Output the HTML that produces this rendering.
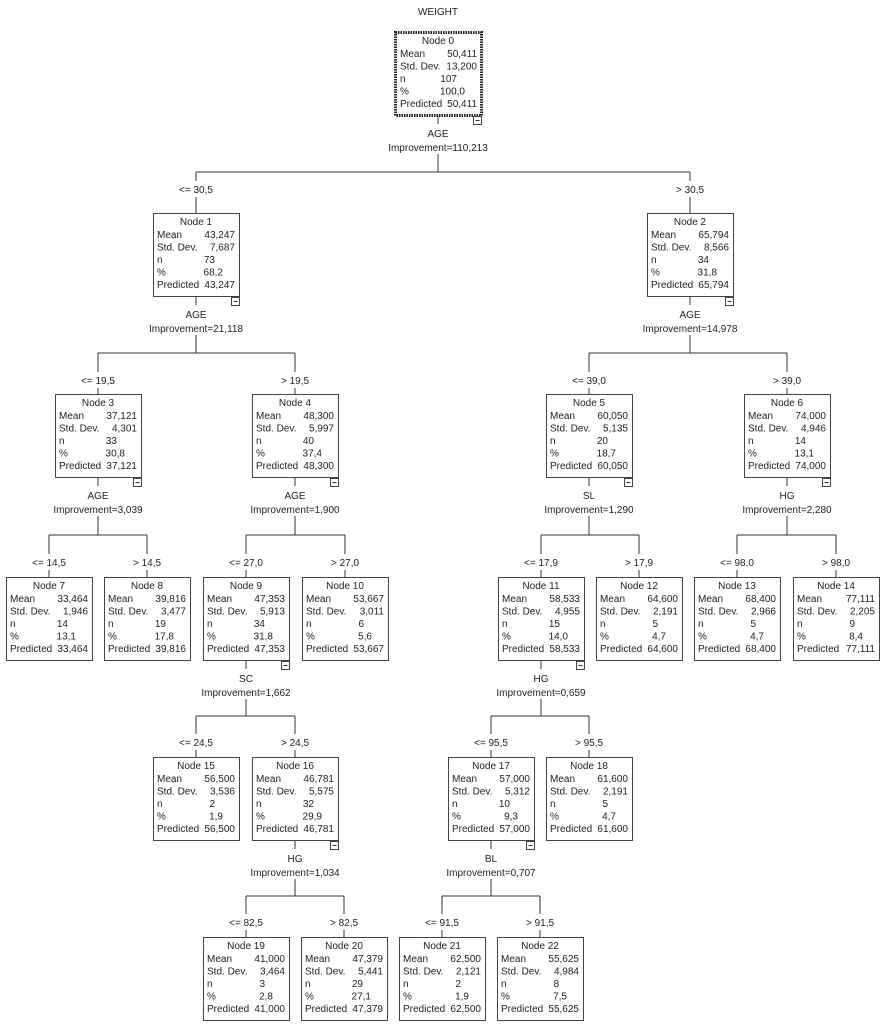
<!DOCTYPE html>
<html><head><meta charset="utf-8"><style>
html,body{margin:0;padding:0;background:#fff;}
svg{display:block;font-family:"Liberation Sans",Arial,sans-serif;font-size:10px;fill:#222;}
rect.b{fill:#fff;stroke:#444;stroke-width:1;}
line{stroke:#333;stroke-width:1;}
.m{fill:#fff;stroke:#444;stroke-width:1;}
</style></head><body>
<svg width="883" height="1024" viewBox="0 0 883 1024" xmlns="http://www.w3.org/2000/svg">
<defs>
<g id="minus"><rect class="m" x="78.5" y="84.5" width="8" height="8"/><line x1="80.5" y1="88.5" x2="84.5" y2="88.5"/></g>
</defs>
<text x="438" y="15" text-anchor="middle">WEIGHT</text>

<!-- connectors -->
<g>
<!-- node0 -->
<line x1="438" y1="115" x2="438" y2="124"/><line x1="438" y1="154" x2="438" y2="172"/>
<line x1="196" y1="172" x2="690" y2="172"/>
<line x1="196" y1="172" x2="196" y2="181"/><line x1="196" y1="197" x2="196" y2="213"/>
<line x1="690" y1="172" x2="690" y2="181"/><line x1="690" y1="197" x2="690" y2="213"/>
<!-- node1 -->
<line x1="196" y1="296" x2="196" y2="305"/><line x1="196" y1="335" x2="196" y2="353"/>
<line x1="98" y1="353" x2="295" y2="353"/>
<line x1="98" y1="353" x2="98" y2="372"/><line x1="98" y1="388" x2="98" y2="394"/>
<line x1="295" y1="353" x2="295" y2="372"/><line x1="295" y1="388" x2="295" y2="394"/>
<!-- node2 -->
<line x1="690" y1="296" x2="690" y2="305"/><line x1="690" y1="335" x2="690" y2="353"/>
<line x1="589" y1="353" x2="787" y2="353"/>
<line x1="589" y1="353" x2="589" y2="372"/><line x1="589" y1="388" x2="589" y2="394"/>
<line x1="787" y1="353" x2="787" y2="372"/><line x1="787" y1="388" x2="787" y2="394"/>
<!-- node3 -->
<line x1="98" y1="477" x2="98" y2="486"/><line x1="98" y1="516" x2="98" y2="535"/>
<line x1="49" y1="535" x2="147" y2="535"/>
<line x1="49" y1="535" x2="49" y2="554"/><line x1="49" y1="570" x2="49" y2="577"/>
<line x1="147" y1="535" x2="147" y2="554"/><line x1="147" y1="570" x2="147" y2="577"/>
<!-- node4 -->
<line x1="295" y1="477" x2="295" y2="486"/><line x1="295" y1="516" x2="295" y2="535"/>
<line x1="246" y1="535" x2="345" y2="535"/>
<line x1="246" y1="535" x2="246" y2="554"/><line x1="246" y1="570" x2="246" y2="577"/>
<line x1="345" y1="535" x2="345" y2="554"/><line x1="345" y1="570" x2="345" y2="577"/>
<!-- node5 -->
<line x1="589" y1="477" x2="589" y2="486"/><line x1="589" y1="516" x2="589" y2="535"/>
<line x1="541" y1="535" x2="639" y2="535"/>
<line x1="541" y1="535" x2="541" y2="554"/><line x1="541" y1="570" x2="541" y2="577"/>
<line x1="639" y1="535" x2="639" y2="554"/><line x1="639" y1="570" x2="639" y2="577"/>
<!-- node6 -->
<line x1="787" y1="477" x2="787" y2="486"/><line x1="787" y1="516" x2="787" y2="535"/>
<line x1="737" y1="535" x2="836" y2="535"/>
<line x1="737" y1="535" x2="737" y2="554"/><line x1="737" y1="570" x2="737" y2="577"/>
<line x1="836" y1="535" x2="836" y2="554"/><line x1="836" y1="570" x2="836" y2="577"/>
<!-- node9 -->
<line x1="246" y1="660" x2="246" y2="669"/><line x1="246" y1="699" x2="246" y2="716"/>
<line x1="196" y1="716" x2="295" y2="716"/>
<line x1="196" y1="716" x2="196" y2="734"/><line x1="196" y1="750" x2="196" y2="757"/>
<line x1="295" y1="716" x2="295" y2="734"/><line x1="295" y1="750" x2="295" y2="757"/>
<!-- node11 -->
<line x1="541" y1="660" x2="541" y2="669"/><line x1="541" y1="699" x2="541" y2="716"/>
<line x1="491" y1="716" x2="589" y2="716"/>
<line x1="491" y1="716" x2="491" y2="734"/><line x1="491" y1="750" x2="491" y2="757"/>
<line x1="589" y1="716" x2="589" y2="734"/><line x1="589" y1="750" x2="589" y2="757"/>
<!-- node16 -->
<line x1="295" y1="840" x2="295" y2="849"/><line x1="295" y1="879" x2="295" y2="896"/>
<line x1="246" y1="896" x2="344" y2="896"/>
<line x1="246" y1="896" x2="246" y2="914"/><line x1="246" y1="930" x2="246" y2="937"/>
<line x1="344" y1="896" x2="344" y2="914"/><line x1="344" y1="930" x2="344" y2="937"/>
<!-- node17 -->
<line x1="491" y1="840" x2="491" y2="849"/><line x1="491" y1="879" x2="491" y2="896"/>
<line x1="442" y1="896" x2="540" y2="896"/>
<line x1="442" y1="896" x2="442" y2="914"/><line x1="442" y1="930" x2="442" y2="937"/>
<line x1="540" y1="896" x2="540" y2="914"/><line x1="540" y1="930" x2="540" y2="937"/>
</g>

<!-- split labels -->
<g text-anchor="middle">
<text x="438" y="137">AGE</text><text x="438" y="151">Improvement=110,213</text>
<text x="196" y="193">&lt;= 30,5</text><text x="690" y="193">&gt; 30,5</text>
<text x="196" y="318">AGE</text><text x="196" y="332">Improvement=21,118</text>
<text x="98" y="384">&lt;= 19,5</text><text x="295" y="384">&gt; 19,5</text>
<text x="690" y="318">AGE</text><text x="690" y="332">Improvement=14,978</text>
<text x="589" y="384">&lt;= 39,0</text><text x="787" y="384">&gt; 39,0</text>
<text x="98" y="499">AGE</text><text x="98" y="513">Improvement=3,039</text>
<text x="49" y="566">&lt;= 14,5</text><text x="147" y="566">&gt; 14,5</text>
<text x="295" y="499">AGE</text><text x="295" y="513">Improvement=1,900</text>
<text x="246" y="566">&lt;= 27,0</text><text x="345" y="566">&gt; 27,0</text>
<text x="589" y="499">SL</text><text x="589" y="513">Improvement=1,290</text>
<text x="541" y="566">&lt;= 17,9</text><text x="639" y="566">&gt; 17,9</text>
<text x="787" y="499">HG</text><text x="787" y="513">Improvement=2,280</text>
<text x="737" y="566">&lt;= 98,0</text><text x="836" y="566">&gt; 98,0</text>
<text x="246" y="682">SC</text><text x="246" y="696">Improvement=1,662</text>
<text x="196" y="746">&lt;= 24,5</text><text x="295" y="746">&gt; 24,5</text>
<text x="541" y="682">HG</text><text x="541" y="696">Improvement=0,659</text>
<text x="491" y="746">&lt;= 95,5</text><text x="589" y="746">&gt; 95,5</text>
<text x="295" y="862">HG</text><text x="295" y="876">Improvement=1,034</text>
<text x="246" y="926">&lt;= 82,5</text><text x="344" y="926">&gt; 82,5</text>
<text x="491" y="862">BL</text><text x="491" y="876">Improvement=0,707</text>
<text x="442" y="926">&lt;= 91,5</text><text x="540" y="926">&gt; 91,5</text>
</g>

<!-- Node 0 -->
<g transform="translate(395,32)">
<rect x="0.5" y="0.5" width="86" height="83" fill="#fff" stroke="#222" stroke-width="3" stroke-dasharray="1.5,1"/>
<text x="43" y="12" text-anchor="middle">Node 0</text>
<text x="5" y="25">Mean</text><text x="82" y="25" text-anchor="end">50,411</text>
<text x="5" y="37.5">Std. Dev.</text><text x="82" y="37.5" text-anchor="end">13,200</text>
<text x="5" y="50">n</text><text x="62" y="50" text-anchor="end">107</text>
<text x="5" y="62.5">%</text><text x="70" y="62.5" text-anchor="end">100,0</text>
<text x="5" y="75">Predicted</text><text x="82" y="75" text-anchor="end">50,411</text>
<use href="#minus"/>
</g>

<g transform="translate(153,213)"><rect class="b" x="0.5" y="0.5" width="86" height="83"/>
<text x="43" y="12" text-anchor="middle">Node 1</text>
<text x="4" y="25">Mean</text><text x="82" y="25" text-anchor="end">43,247</text>
<text x="4" y="37.5">Std. Dev.</text><text x="82" y="37.5" text-anchor="end">7,687</text>
<text x="4" y="50">n</text><text x="62" y="50" text-anchor="end">73</text>
<text x="4" y="62.5">%</text><text x="70" y="62.5" text-anchor="end">68,2</text>
<text x="4" y="75">Predicted</text><text x="82" y="75" text-anchor="end">43,247</text>
<use href="#minus"/></g>

<g transform="translate(647,213)"><rect class="b" x="0.5" y="0.5" width="86" height="83"/>
<text x="43" y="12" text-anchor="middle">Node 2</text>
<text x="4" y="25">Mean</text><text x="82" y="25" text-anchor="end">65,794</text>
<text x="4" y="37.5">Std. Dev.</text><text x="82" y="37.5" text-anchor="end">8,566</text>
<text x="4" y="50">n</text><text x="62" y="50" text-anchor="end">34</text>
<text x="4" y="62.5">%</text><text x="70" y="62.5" text-anchor="end">31,8</text>
<text x="4" y="75">Predicted</text><text x="82" y="75" text-anchor="end">65,794</text>
<use href="#minus"/></g>

<g transform="translate(55,394)"><rect class="b" x="0.5" y="0.5" width="86" height="83"/>
<text x="43" y="12" text-anchor="middle">Node 3</text>
<text x="4" y="25">Mean</text><text x="82" y="25" text-anchor="end">37,121</text>
<text x="4" y="37.5">Std. Dev.</text><text x="82" y="37.5" text-anchor="end">4,301</text>
<text x="4" y="50">n</text><text x="62" y="50" text-anchor="end">33</text>
<text x="4" y="62.5">%</text><text x="70" y="62.5" text-anchor="end">30,8</text>
<text x="4" y="75">Predicted</text><text x="82" y="75" text-anchor="end">37,121</text>
<use href="#minus"/></g>

<g transform="translate(252,394)"><rect class="b" x="0.5" y="0.5" width="86" height="83"/>
<text x="43" y="12" text-anchor="middle">Node 4</text>
<text x="4" y="25">Mean</text><text x="82" y="25" text-anchor="end">48,300</text>
<text x="4" y="37.5">Std. Dev.</text><text x="82" y="37.5" text-anchor="end">5,997</text>
<text x="4" y="50">n</text><text x="62" y="50" text-anchor="end">40</text>
<text x="4" y="62.5">%</text><text x="70" y="62.5" text-anchor="end">37,4</text>
<text x="4" y="75">Predicted</text><text x="82" y="75" text-anchor="end">48,300</text>
<use href="#minus"/></g>

<g transform="translate(546,394)"><rect class="b" x="0.5" y="0.5" width="86" height="83"/>
<text x="43" y="12" text-anchor="middle">Node 5</text>
<text x="4" y="25">Mean</text><text x="82" y="25" text-anchor="end">60,050</text>
<text x="4" y="37.5">Std. Dev.</text><text x="82" y="37.5" text-anchor="end">5,135</text>
<text x="4" y="50">n</text><text x="62" y="50" text-anchor="end">20</text>
<text x="4" y="62.5">%</text><text x="70" y="62.5" text-anchor="end">18,7</text>
<text x="4" y="75">Predicted</text><text x="82" y="75" text-anchor="end">60,050</text>
<use href="#minus"/></g>

<g transform="translate(744,394)"><rect class="b" x="0.5" y="0.5" width="86" height="83"/>
<text x="43" y="12" text-anchor="middle">Node 6</text>
<text x="4" y="25">Mean</text><text x="82" y="25" text-anchor="end">74,000</text>
<text x="4" y="37.5">Std. Dev.</text><text x="82" y="37.5" text-anchor="end">4,946</text>
<text x="4" y="50">n</text><text x="62" y="50" text-anchor="end">14</text>
<text x="4" y="62.5">%</text><text x="70" y="62.5" text-anchor="end">13,1</text>
<text x="4" y="75">Predicted</text><text x="82" y="75" text-anchor="end">74,000</text>
<use href="#minus"/></g>

<g transform="translate(6,577)"><rect class="b" x="0.5" y="0.5" width="86" height="83"/>
<text x="43" y="12" text-anchor="middle">Node 7</text>
<text x="4" y="25">Mean</text><text x="82" y="25" text-anchor="end">33,464</text>
<text x="4" y="37.5">Std. Dev.</text><text x="82" y="37.5" text-anchor="end">1,946</text>
<text x="4" y="50">n</text><text x="62" y="50" text-anchor="end">14</text>
<text x="4" y="62.5">%</text><text x="70" y="62.5" text-anchor="end">13,1</text>
<text x="4" y="75">Predicted</text><text x="82" y="75" text-anchor="end">33,464</text></g>

<g transform="translate(104,577)"><rect class="b" x="0.5" y="0.5" width="86" height="83"/>
<text x="43" y="12" text-anchor="middle">Node 8</text>
<text x="4" y="25">Mean</text><text x="82" y="25" text-anchor="end">39,816</text>
<text x="4" y="37.5">Std. Dev.</text><text x="82" y="37.5" text-anchor="end">3,477</text>
<text x="4" y="50">n</text><text x="62" y="50" text-anchor="end">19</text>
<text x="4" y="62.5">%</text><text x="70" y="62.5" text-anchor="end">17,8</text>
<text x="4" y="75">Predicted</text><text x="82" y="75" text-anchor="end">39,816</text></g>

<g transform="translate(203,577)"><rect class="b" x="0.5" y="0.5" width="86" height="83"/>
<text x="43" y="12" text-anchor="middle">Node 9</text>
<text x="4" y="25">Mean</text><text x="82" y="25" text-anchor="end">47,353</text>
<text x="4" y="37.5">Std. Dev.</text><text x="82" y="37.5" text-anchor="end">5,913</text>
<text x="4" y="50">n</text><text x="62" y="50" text-anchor="end">34</text>
<text x="4" y="62.5">%</text><text x="70" y="62.5" text-anchor="end">31,8</text>
<text x="4" y="75">Predicted</text><text x="82" y="75" text-anchor="end">47,353</text>
<use href="#minus"/></g>

<g transform="translate(302,577)"><rect class="b" x="0.5" y="0.5" width="86" height="83"/>
<text x="43" y="12" text-anchor="middle">Node 10</text>
<text x="4" y="25">Mean</text><text x="82" y="25" text-anchor="end">53,667</text>
<text x="4" y="37.5">Std. Dev.</text><text x="82" y="37.5" text-anchor="end">3,011</text>
<text x="4" y="50">n</text><text x="62" y="50" text-anchor="end">6</text>
<text x="4" y="62.5">%</text><text x="70" y="62.5" text-anchor="end">5,6</text>
<text x="4" y="75">Predicted</text><text x="82" y="75" text-anchor="end">53,667</text></g>

<g transform="translate(498,577)"><rect class="b" x="0.5" y="0.5" width="86" height="83"/>
<text x="43" y="12" text-anchor="middle">Node 11</text>
<text x="4" y="25">Mean</text><text x="82" y="25" text-anchor="end">58,533</text>
<text x="4" y="37.5">Std. Dev.</text><text x="82" y="37.5" text-anchor="end">4,955</text>
<text x="4" y="50">n</text><text x="62" y="50" text-anchor="end">15</text>
<text x="4" y="62.5">%</text><text x="70" y="62.5" text-anchor="end">14,0</text>
<text x="4" y="75">Predicted</text><text x="82" y="75" text-anchor="end">58,533</text>
<use href="#minus"/></g>

<g transform="translate(596,577)"><rect class="b" x="0.5" y="0.5" width="86" height="83"/>
<text x="43" y="12" text-anchor="middle">Node 12</text>
<text x="4" y="25">Mean</text><text x="82" y="25" text-anchor="end">64,600</text>
<text x="4" y="37.5">Std. Dev.</text><text x="82" y="37.5" text-anchor="end">2,191</text>
<text x="4" y="50">n</text><text x="62" y="50" text-anchor="end">5</text>
<text x="4" y="62.5">%</text><text x="70" y="62.5" text-anchor="end">4,7</text>
<text x="4" y="75">Predicted</text><text x="82" y="75" text-anchor="end">64,600</text></g>

<g transform="translate(694,577)"><rect class="b" x="0.5" y="0.5" width="86" height="83"/>
<text x="43" y="12" text-anchor="middle">Node 13</text>
<text x="4" y="25">Mean</text><text x="82" y="25" text-anchor="end">68,400</text>
<text x="4" y="37.5">Std. Dev.</text><text x="82" y="37.5" text-anchor="end">2,966</text>
<text x="4" y="50">n</text><text x="62" y="50" text-anchor="end">5</text>
<text x="4" y="62.5">%</text><text x="70" y="62.5" text-anchor="end">4,7</text>
<text x="4" y="75">Predicted</text><text x="82" y="75" text-anchor="end">68,400</text></g>

<g transform="translate(793,577)"><rect class="b" x="0.5" y="0.5" width="86" height="83"/>
<text x="43" y="12" text-anchor="middle">Node 14</text>
<text x="4" y="25">Mean</text><text x="82" y="25" text-anchor="end">77,111</text>
<text x="4" y="37.5">Std. Dev.</text><text x="82" y="37.5" text-anchor="end">2,205</text>
<text x="4" y="50">n</text><text x="62" y="50" text-anchor="end">9</text>
<text x="4" y="62.5">%</text><text x="70" y="62.5" text-anchor="end">8,4</text>
<text x="4" y="75">Predicted</text><text x="82" y="75" text-anchor="end">77,111</text></g>

<g transform="translate(153,757)"><rect class="b" x="0.5" y="0.5" width="86" height="83"/>
<text x="43" y="12" text-anchor="middle">Node 15</text>
<text x="4" y="25">Mean</text><text x="82" y="25" text-anchor="end">56,500</text>
<text x="4" y="37.5">Std. Dev.</text><text x="82" y="37.5" text-anchor="end">3,536</text>
<text x="4" y="50">n</text><text x="62" y="50" text-anchor="end">2</text>
<text x="4" y="62.5">%</text><text x="70" y="62.5" text-anchor="end">1,9</text>
<text x="4" y="75">Predicted</text><text x="82" y="75" text-anchor="end">56,500</text></g>

<g transform="translate(252,757)"><rect class="b" x="0.5" y="0.5" width="86" height="83"/>
<text x="43" y="12" text-anchor="middle">Node 16</text>
<text x="4" y="25">Mean</text><text x="82" y="25" text-anchor="end">46,781</text>
<text x="4" y="37.5">Std. Dev.</text><text x="82" y="37.5" text-anchor="end">5,575</text>
<text x="4" y="50">n</text><text x="62" y="50" text-anchor="end">32</text>
<text x="4" y="62.5">%</text><text x="70" y="62.5" text-anchor="end">29,9</text>
<text x="4" y="75">Predicted</text><text x="82" y="75" text-anchor="end">46,781</text>
<use href="#minus"/></g>

<g transform="translate(448,757)"><rect class="b" x="0.5" y="0.5" width="86" height="83"/>
<text x="43" y="12" text-anchor="middle">Node 17</text>
<text x="4" y="25">Mean</text><text x="82" y="25" text-anchor="end">57,000</text>
<text x="4" y="37.5">Std. Dev.</text><text x="82" y="37.5" text-anchor="end">5,312</text>
<text x="4" y="50">n</text><text x="62" y="50" text-anchor="end">10</text>
<text x="4" y="62.5">%</text><text x="70" y="62.5" text-anchor="end">9,3</text>
<text x="4" y="75">Predicted</text><text x="82" y="75" text-anchor="end">57,000</text>
<use href="#minus"/></g>

<g transform="translate(546,757)"><rect class="b" x="0.5" y="0.5" width="86" height="83"/>
<text x="43" y="12" text-anchor="middle">Node 18</text>
<text x="4" y="25">Mean</text><text x="82" y="25" text-anchor="end">61,600</text>
<text x="4" y="37.5">Std. Dev.</text><text x="82" y="37.5" text-anchor="end">2,191</text>
<text x="4" y="50">n</text><text x="62" y="50" text-anchor="end">5</text>
<text x="4" y="62.5">%</text><text x="70" y="62.5" text-anchor="end">4,7</text>
<text x="4" y="75">Predicted</text><text x="82" y="75" text-anchor="end">61,600</text></g>

<g transform="translate(203,937)"><rect class="b" x="0.5" y="0.5" width="86" height="83"/>
<text x="43" y="12" text-anchor="middle">Node 19</text>
<text x="4" y="25">Mean</text><text x="82" y="25" text-anchor="end">41,000</text>
<text x="4" y="37.5">Std. Dev.</text><text x="82" y="37.5" text-anchor="end">3,464</text>
<text x="4" y="50">n</text><text x="62" y="50" text-anchor="end">3</text>
<text x="4" y="62.5">%</text><text x="70" y="62.5" text-anchor="end">2,8</text>
<text x="4" y="75">Predicted</text><text x="82" y="75" text-anchor="end">41,000</text></g>

<g transform="translate(301,937)"><rect class="b" x="0.5" y="0.5" width="86" height="83"/>
<text x="43" y="12" text-anchor="middle">Node 20</text>
<text x="4" y="25">Mean</text><text x="82" y="25" text-anchor="end">47,379</text>
<text x="4" y="37.5">Std. Dev.</text><text x="82" y="37.5" text-anchor="end">5,441</text>
<text x="4" y="50">n</text><text x="62" y="50" text-anchor="end">29</text>
<text x="4" y="62.5">%</text><text x="70" y="62.5" text-anchor="end">27,1</text>
<text x="4" y="75">Predicted</text><text x="82" y="75" text-anchor="end">47,379</text></g>

<g transform="translate(399,937)"><rect class="b" x="0.5" y="0.5" width="86" height="83"/>
<text x="43" y="12" text-anchor="middle">Node 21</text>
<text x="4" y="25">Mean</text><text x="82" y="25" text-anchor="end">62,500</text>
<text x="4" y="37.5">Std. Dev.</text><text x="82" y="37.5" text-anchor="end">2,121</text>
<text x="4" y="50">n</text><text x="62" y="50" text-anchor="end">2</text>
<text x="4" y="62.5">%</text><text x="70" y="62.5" text-anchor="end">1,9</text>
<text x="4" y="75">Predicted</text><text x="82" y="75" text-anchor="end">62,500</text></g>

<g transform="translate(497,937)"><rect class="b" x="0.5" y="0.5" width="86" height="83"/>
<text x="43" y="12" text-anchor="middle">Node 22</text>
<text x="4" y="25">Mean</text><text x="82" y="25" text-anchor="end">55,625</text>
<text x="4" y="37.5">Std. Dev.</text><text x="82" y="37.5" text-anchor="end">4,984</text>
<text x="4" y="50">n</text><text x="62" y="50" text-anchor="end">8</text>
<text x="4" y="62.5">%</text><text x="70" y="62.5" text-anchor="end">7,5</text>
<text x="4" y="75">Predicted</text><text x="82" y="75" text-anchor="end">55,625</text></g>
</svg>
</body></html>
